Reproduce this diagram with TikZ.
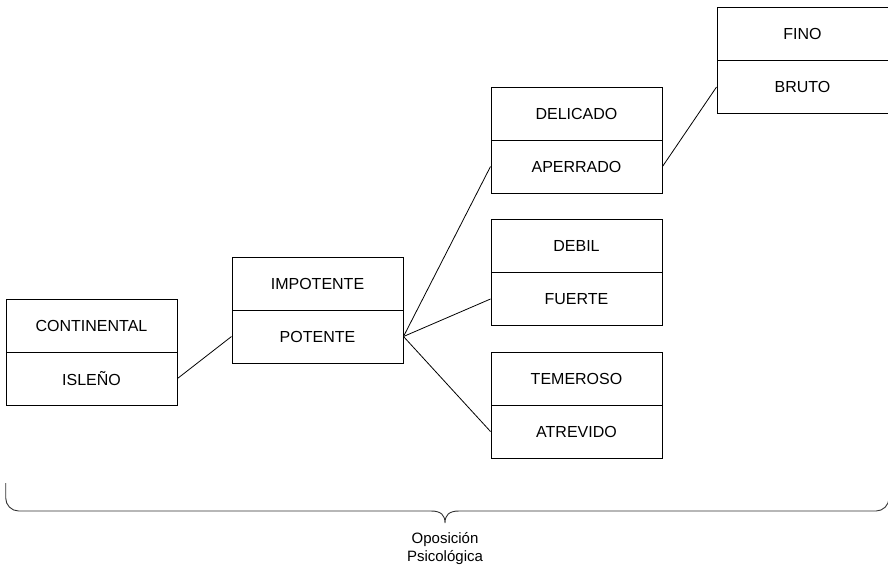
\documentclass[tikz,border=0pt]{standalone}
\usepackage{fontspec}
\setmainfont{Liberation Sans}

\tikzset{
  cell/.style={draw,line width=1pt,minimum width=171pt,minimum height=53pt,
    inner sep=0pt,font=\fontsize{16}{19}\selectfont},
  link/.style={draw,line width=0.8pt},
  brace/.style={draw,line width=0.9pt,color=black!80}
}

\begin{document}
\begin{tikzpicture}[x=1pt,y=-1pt]
\useasboundingbox (0,0) rectangle (888,568);
% first pair
\node[cell] (continental) at (91.5,325.5) {CONTINENTAL};
\node[cell] (isleno)      at (91.5,378.5) {ISLEÑO};
% second pair
\node[cell] (impotente) at (317.5,283.5) {IMPOTENTE};
\node[cell] (potente)   at (317.5,336.5) {POTENTE};
% third column
\node[cell] (delicado) at (576.5,113.5) {DELICADO};
\node[cell] (aperrado) at (576.5,166.5) {APERRADO};
\node[cell] (debil)    at (576.5,246)   {DEBIL};
\node[cell] (fuerte)   at (576.5,299)   {FUERTE};
\node[cell] (temeroso) at (576.5,378.5) {TEMEROSO};
\node[cell] (atrevido) at (576.5,431.5) {ATREVIDO};
% last pair
\node[cell] (fino)  at (802.5,34) {FINO};
\node[cell] (bruto) at (802.5,87) {BRUTO};
% links
\path[link] (isleno.east) -- (potente.west);
\path[link] (potente.east) -- (aperrado.west);
\path[link] (potente.east) -- (fuerte.west);
\path[link] (potente.east) -- (atrevido.west);
\path[link] (aperrado.east) -- (bruto.west);
% brace
\path[brace] (5.7,483) -- (5.7,498) arc[start angle=180,end angle=90,radius=13]
  -- (431,511) .. controls (441,511) and (445,515) .. (445,523)
  .. controls (445,515) and (449,511) .. (459,511)
  -- (876,511) arc[start angle=90,end angle=0,radius=13] -- (889,483);
\node[font=\fontsize{15}{18}\selectfont,align=center] (oposicion) at (445,549)
  {Oposición\\Psicológica};
\end{tikzpicture}
\end{document}
